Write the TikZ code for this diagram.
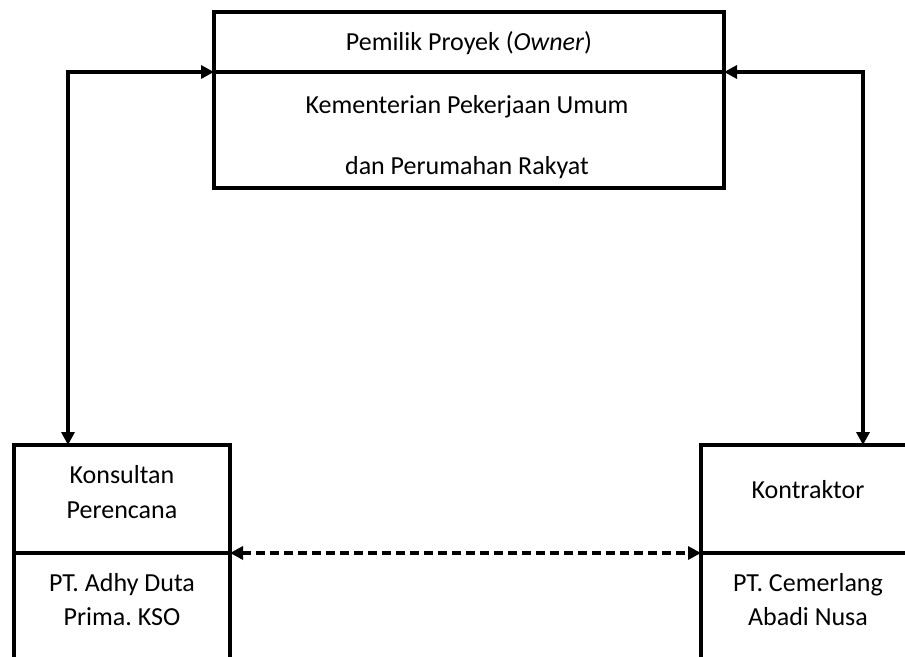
\documentclass[tikz,border=0pt]{standalone}
\usepackage{fontspec}
\setmainfont{Carlito}
\usetikzlibrary{arrows.meta}
\frenchspacing
\begin{document}
\begin{tikzpicture}[x=1pt,y=-1pt,
  box/.style={draw, line width=3.5pt, inner sep=0pt, outer sep=0pt},
  lbl/.style={font=\fontsize{26}{35}\selectfont\frenchspacing, inner sep=0pt, anchor=base},
  conn/.style={line width=3.5pt, {Triangle[length=13pt,width=13pt]}-{Triangle[length=13pt,width=13pt]}},
  dconn/.style={conn, dash pattern=on 9pt off 5pt}]
\useasboundingbox (0,0) rectangle (905,656);
\clip (0,0) rectangle (905,656);
% owner box
\node[box, minimum width=510pt, minimum height=60pt] (ownerT) at (469,42) {};
\node[box, minimum width=510pt, minimum height=116pt] (ownerB) at (469,130) {};
\node[lbl] (t1) at (469,50) {Pemilik Proyek (\textit{Owner})};
\node[lbl] (t2) at (467,113) {Kementerian Pekerjaan Umum};
\node[lbl] (t3) at (467,174) {dan Perumahan Rakyat};
% konsultan
\node[box, minimum width=216pt, minimum height=108pt] (konsT) at (122,499) {};
\node[box, minimum width=216pt, minimum height=170pt] (konsB) at (122,638) {};
\node[lbl] (k1) at (122,483) {Konsultan};
\node[lbl] (k2) at (122,518) {Perencana};
\node[lbl] (k3) at (122,591) {PT. Adhy Duta};
\node[lbl] (k4) at (122,625) {Prima. KSO};
% kontraktor
\node[box, minimum width=260pt, minimum height=108pt] (kontT) at (831,499) {};
\node[box, minimum width=260pt, minimum height=170pt] (kontB) at (831,638) {};
\node[lbl] (c1) at (808,498) {Kontraktor};
\node[lbl] (c2) at (808,591) {PT. Cemerlang};
\node[lbl] (c3) at (808,625) {Abadi Nusa};
% connectors
\draw[conn] (ownerT.south west) -| ([xshift=54pt]konsT.north west);
\draw[conn] (ownerT.south east) -| ([xshift=162pt]kontT.north west);
\draw[dconn] (konsT.south east) -- (kontT.south west);
\end{tikzpicture}
\end{document}
